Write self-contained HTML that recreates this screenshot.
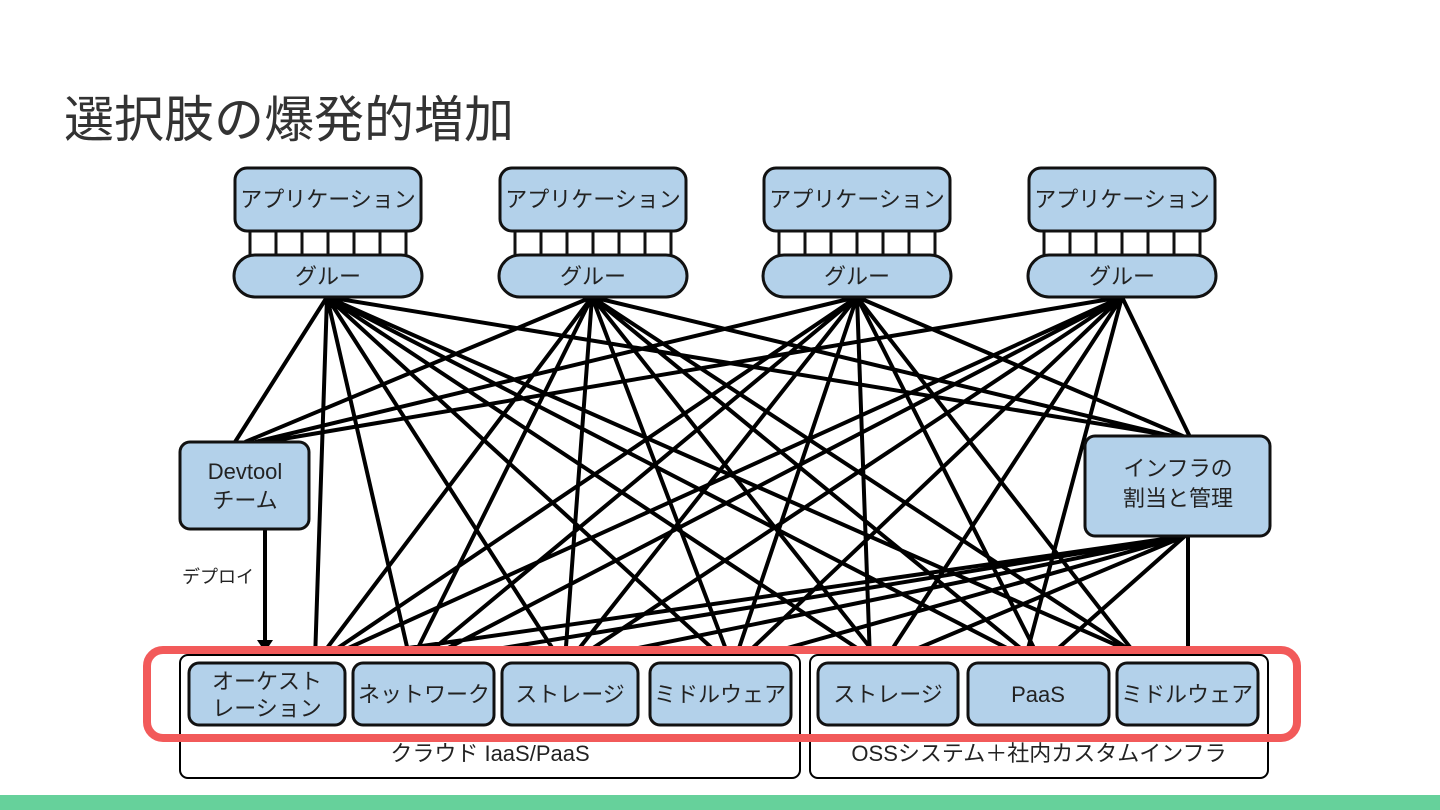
<!DOCTYPE html>
<html><head><meta charset="utf-8"><style>
body{margin:0;width:1440px;height:810px;background:#fff;overflow:hidden;position:relative;font-family:"Liberation Sans","Noto Sans CJK JP",sans-serif;}
.t{position:absolute;left:64px;top:80px;font-size:50px;color:#333;}
svg{position:absolute;left:0;top:0}
</style></head><body>
<div class="t">選択肢の爆発的増加</div>
<svg width="1440" height="810" font-family="Liberation Sans, Noto Sans CJK JP, sans-serif">
<g stroke="#000" stroke-width="4" fill="none">
<path d="M327 297L235 442M327 297L1180 437M327 297L315 660M327 297L410 660M327 297L560 660M327 297L725 660M327 297L875 660M327 297L1030 660M327 297L1150 660
M592 297L245 442M592 297L1175 437M592 297L318 660M592 297L412 660M592 297L565 660M592 297L730 660M592 297L880 660M592 297L1035 660M592 297L1145 660
M857 297L255 442M857 297L1185 437M857 297L320 660M857 297L420 660M857 297L570 660M857 297L735 660M857 297L870 660M857 297L1040 660M857 297L1140 660
M1122 297L265 442M1122 297L1190 437M1122 297L322 660M1122 297L425 660M1122 297L575 660M1122 297L740 660M1122 297L885 660M1122 297L1025 660
M1185 536L325 660M1185 536L430 660M1185 536L580 660M1185 536L745 660M1185 536L890 660M1185 536L1045 660M1188 536L1188 660"/>
<path d="M265 529L265 642"/>
</g>
<path d="M257 640L273 640L265 652Z" fill="#000"/>
<rect x="180" y="655" width="620" height="123" rx="8" fill="#fff" stroke="#000" stroke-width="2"/>
<rect x="810" y="655" width="458" height="123" rx="8" fill="#fff" stroke="#000" stroke-width="2"/>
<g fill="#b3d1ea" stroke="#111" stroke-width="3">
<rect x="189" y="663" width="156" height="62" rx="10"/>
<rect x="353" y="663" width="141" height="62" rx="10"/>
<rect x="502" y="663" width="136" height="62" rx="10"/>
<rect x="650" y="663" width="141" height="62" rx="10"/>
<rect x="818" y="663" width="140" height="62" rx="10"/>
<rect x="968" y="663" width="141" height="62" rx="10"/>
<rect x="1117" y="663" width="141" height="62" rx="10"/>
<rect x="180" y="442" width="129" height="87" rx="10"/>
<rect x="1085" y="436" width="185" height="100" rx="10"/>
</g>
<g stroke="#111" stroke-width="3">
<g><rect x="235" y="168" width="186" height="63" rx="12" fill="#b3d1ea"/><rect x="250" y="231" width="156" height="26" fill="#fff"/><path d="M276 231V257M302 231V257M328 231V257M354 231V257M380 231V257"/><rect x="234" y="255" width="188" height="42" rx="21" fill="#b3d1ea"/></g>
<g transform="translate(265 0)"><rect x="235" y="168" width="186" height="63" rx="12" fill="#b3d1ea"/><rect x="250" y="231" width="156" height="26" fill="#fff"/><path d="M276 231V257M302 231V257M328 231V257M354 231V257M380 231V257"/><rect x="234" y="255" width="188" height="42" rx="21" fill="#b3d1ea"/></g>
<g transform="translate(529 0)"><rect x="235" y="168" width="186" height="63" rx="12" fill="#b3d1ea"/><rect x="250" y="231" width="156" height="26" fill="#fff"/><path d="M276 231V257M302 231V257M328 231V257M354 231V257M380 231V257"/><rect x="234" y="255" width="188" height="42" rx="21" fill="#b3d1ea"/></g>
<g transform="translate(794 0)"><rect x="235" y="168" width="186" height="63" rx="12" fill="#b3d1ea"/><rect x="250" y="231" width="156" height="26" fill="#fff"/><path d="M276 231V257M302 231V257M328 231V257M354 231V257M380 231V257"/><rect x="234" y="255" width="188" height="42" rx="21" fill="#b3d1ea"/></g>
</g>
<g font-size="22" fill="#222" text-anchor="middle">
<text x="328" y="207">アプリケーション</text><text x="593" y="207">アプリケーション</text><text x="857" y="207">アプリケーション</text><text x="1122" y="207">アプリケーション</text>
<text x="328" y="284">グルー</text><text x="593" y="284">グルー</text><text x="857" y="284">グルー</text><text x="1122" y="284">グルー</text>
<text x="245" y="479">Devtool</text><text x="245" y="508">チーム</text>
<text x="1178" y="476">インフラの</text><text x="1178" y="506">割当と管理</text>
<text x="267" y="689">オーケスト</text><text x="267" y="716">レーション</text>
<text x="424" y="702">ネットワーク</text><text x="570" y="702">ストレージ</text><text x="720" y="702">ミドルウェア</text>
<text x="888" y="702">ストレージ</text><text x="1038" y="702">PaaS</text><text x="1187" y="702">ミドルウェア</text>
<text x="490" y="761">クラウド IaaS/PaaS</text><text x="1039" y="761">OSSシステム＋社内カスタムインフラ</text>
<text x="218" y="583" font-size="18">デプロイ</text>
</g>
<rect x="147" y="650" width="1150" height="88" rx="16" fill="none" stroke="#f25a5a" stroke-width="8"/>
<rect x="0" y="795" width="1440" height="15" fill="#66d19b"/>
</svg>
</body></html>
